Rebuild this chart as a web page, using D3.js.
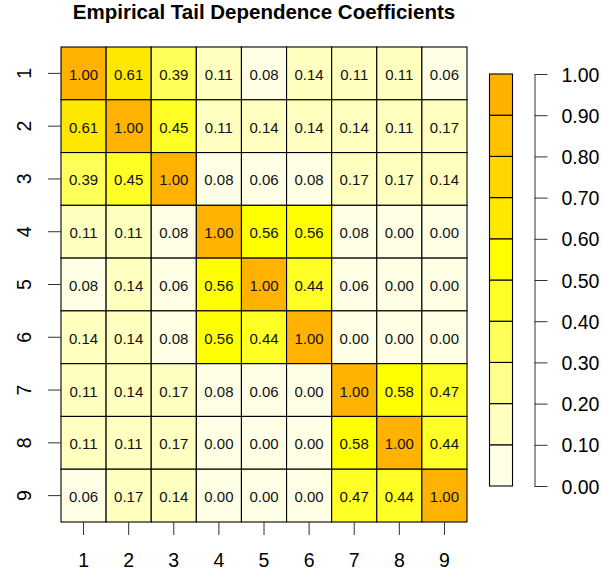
<!DOCTYPE html>
<html>
<head>
<meta charset="utf-8">
<script src="https://cdn.jsdelivr.net/npm/d3@7"></script>
<style>
  html, body { margin: 0; padding: 0; background: #fff; }
  svg { display: block; font-family: "Liberation Sans", Arial, sans-serif; }
</style>
</head>
<body>
<script>
const title = "Empirical Tail Dependence Coefficients";
const rowLabels = ["1","2","3","4","5","6","7","8","9"];
const colLabels = ["1","2","3","4","5","6","7","8","9"];
const values = [
  [1.00, 0.61, 0.39, 0.11, 0.08, 0.14, 0.11, 0.11, 0.06],
  [0.61, 1.00, 0.45, 0.11, 0.14, 0.14, 0.14, 0.11, 0.17],
  [0.39, 0.45, 1.00, 0.08, 0.06, 0.08, 0.17, 0.17, 0.14],
  [0.11, 0.11, 0.08, 1.00, 0.56, 0.56, 0.08, 0.00, 0.00],
  [0.08, 0.14, 0.06, 0.56, 1.00, 0.44, 0.06, 0.00, 0.00],
  [0.14, 0.14, 0.08, 0.56, 0.44, 1.00, 0.00, 0.00, 0.00],
  [0.11, 0.14, 0.17, 0.08, 0.06, 0.00, 1.00, 0.58, 0.47],
  [0.11, 0.11, 0.17, 0.00, 0.00, 0.00, 0.58, 1.00, 0.44],
  [0.06, 0.17, 0.14, 0.00, 0.00, 0.00, 0.47, 0.44, 1.00]
];
const palette = ["#FFFFE6","#FFFFBF","#FFFF8C","#FFFF59","#FFFF26",
                 "#FFFF00","#FFE800","#FFD600","#FFC200","#FFB300"];
const legendTicks = [0,0.1,0.2,0.3,0.4,0.5,0.6,0.7,0.8,0.9,1.0];

const W = 603, H = 577;
const svg = d3.select("body").append("svg").attr("width", W).attr("height", H);

const gl = 61, gr = 467, gt = 47, gb = 522;
const x = d3.scaleBand().domain(colLabels).range([gl, gr]).padding(0);
const y = d3.scaleBand().domain(rowLabels).range([gt, gb]).padding(0);
const color = d3.scaleQuantize().domain([0, 1]).range(palette);

// title
svg.append("text")
  .attr("x", (gl + gr) / 2).attr("y", 19)
  .attr("text-anchor", "middle")
  .attr("font-weight", "bold").attr("font-size", "20.5px")
  .text(title);

// cells
const cells = [];
values.forEach((row, i) => row.forEach((v, j) => cells.push({r: rowLabels[i], c: colLabels[j], v})));
const g = svg.append("g");
g.selectAll("rect").data(cells).join("rect")
  .attr("x", d => x(d.c)).attr("y", d => y(d.r))
  .attr("width", x.bandwidth()).attr("height", y.bandwidth())
  .attr("fill", d => color(d.v))
  .attr("stroke", "#000").attr("stroke-width", 1.1);
g.selectAll("text").data(cells).join("text")
  .attr("x", d => x(d.c) + x.bandwidth() / 2)
  .attr("y", d => y(d.r) + y.bandwidth() / 2 + 1)
  .attr("text-anchor", "middle").attr("dominant-baseline", "central")
  .attr("font-size", "15px").attr("fill", "#111")
  .text(d => d3.format(".2f")(d.v));

// x axis
const xa = svg.append("g").attr("transform", `translate(0,${gb})`)
  .call(d3.axisBottom(x).tickSize(13).tickPadding(0));
xa.select(".domain").remove();
xa.selectAll(".tick line").attr("stroke", "#333");
xa.selectAll(".tick text").attr("font-size", "19.5px").attr("fill", "#000")
  .attr("y", 37.7).attr("dy", null).attr("dominant-baseline", "central");

// y axis
const ya = svg.append("g").attr("transform", `translate(${gl},0)`)
  .call(d3.axisLeft(y).tickSize(13).tickPadding(0));
ya.select(".domain").remove();
ya.selectAll(".tick line").attr("stroke", "#333");
ya.selectAll(".tick text")
  .attr("font-size", "19.5px").attr("fill", "#000")
  .attr("x", null).attr("dy", null)
  .attr("text-anchor", "middle").attr("dominant-baseline", "central")
  .attr("transform", "translate(-37,0) rotate(-90)");

// legend
const lt = 74, lb = 486, lx0 = 489.5, lx1 = 512.5;
const ly = d3.scaleLinear().domain([0, 1]).range([lb, lt]);
const bins = palette.map((c, k) => ({c, lo: k / palette.length, hi: (k + 1) / palette.length}));
svg.append("g").selectAll("rect").data(bins).join("rect")
  .attr("x", lx0).attr("y", d => ly(d.hi))
  .attr("width", lx1 - lx0).attr("height", d => ly(d.lo) - ly(d.hi))
  .attr("fill", d => d.c).attr("stroke", "#000").attr("stroke-width", 1.1);

const la = svg.append("g").attr("transform", "translate(534.5,0)")
  .call(d3.axisRight(ly).tickValues(legendTicks).tickFormat(d3.format(".2f"))
        .tickSize(13).tickSizeOuter(0).tickPadding(14));
la.select(".domain").attr("stroke", "#333");
la.selectAll(".tick line").attr("stroke", "#333");
la.selectAll(".tick text").attr("font-size", "19.5px").attr("fill", "#000")
  .attr("dy", null).attr("dominant-baseline", "central");
</script>
</body>
</html>
